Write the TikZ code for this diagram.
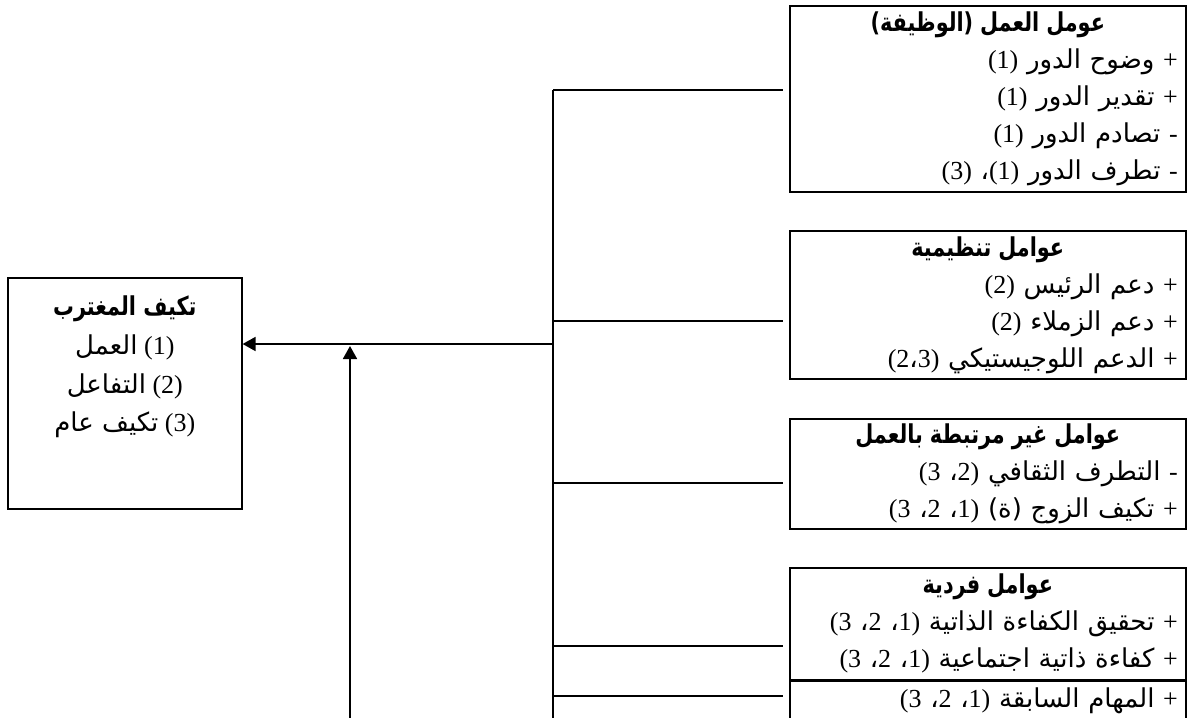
\documentclass[tikz,border=0pt]{standalone}
\usepackage{fontspec}
\usepackage{graphicx}
\setmainfont{Liberation Serif}
\newfontfamily\arabicfont[Script=Arabic]{DejaVu Sans}
\TeXXeTstate=1
\usetikzlibrary{arrows.meta}

% helpers for right-to-left lines
\newcommand\ar[1]{{\arabicfont #1}}
\newcommand\rl[1]{\beginR #1\endR}
\newcommand\lr[1]{\beginL #1\endL{}}
\newcommand\boldar[1]{\scalebox{0.8}[1]{\rl{\ar{\fontsize{13pt}{18.5pt}\selectfont\bfseries #1}}}}
\newcommand\head[1]{\makebox[\linewidth][c]{\boldar{#1}}}

\tikzset{
  factorbox/.style={draw, line width=0.8pt, anchor=north west, inner xsep=4pt,
    inner ysep=0pt, text width=190pt, align=right,
    font=\fontsize{13pt}{18.5pt}\selectfont},
  outcomebox/.style={draw, line width=0.8pt, anchor=north west,
    minimum width=117pt, minimum height=115.5pt},
  branch/.style={line width=0.6pt},
  flow/.style={line width=0.9pt, -{Triangle[length=6.5pt,width=7pt]}}
}

\begin{document}
\begin{tikzpicture}[x=0.5pt, y=-0.5pt]
    \useasboundingbox (0,0) rectangle (1190,718);

    % Outcome box on the left
    \node[outcomebox] (adapt) at (7,277) {};
    \node[anchor=north, align=center, font=\fontsize{13pt}{19.3pt}\selectfont]
      (adapttext) at ([yshift=-6pt]adapt.north) {%
      \boldar{تكيف المغترب}\\
      \rl{(1) \ar{العمل}}\\
      \rl{(2) \ar{التفاعل}}\\
      \rl{(3) \ar{تكيف عام}}};

    % Factor boxes on the right
    \node[factorbox, minimum height=93pt] (work) at (789,5) {%
      \head{عومل العمل (الوظيفة)}\\
      \rl{+ \ar{وضوح الدور} (1)}\\
      \rl{+ \ar{تقدير الدور} (1)}\\
      \rl{- \ar{تصادم الدور} (1)}\\
      \rl{- \ar{تطرف الدور} (1)\ar{،} (3)}};

    \node[factorbox, minimum height=74pt] (org) at (789,230) {%
      \head{عوامل تنظيمية}\\
      \rl{+ \ar{دعم الرئيس} (2)}\\
      \rl{+ \ar{دعم الزملاء} (2)}\\
      \rl{+ \ar{الدعم اللوجيستيكي} \lr{(2\ar{،}3)}}};

    \node[factorbox, minimum height=55pt] (nonwork) at (789,418) {%
      \head{عوامل غير مرتبطة بالعمل}\\
      \rl{- \ar{التطرف الثقافي} \lr{(3 \ar{،}2)}}\\
      \rl{+ \ar{تكيف الزوج (ة)} \lr{(3 \ar{،}2 \ar{،}1)}}};

    \node[factorbox, minimum height=56pt] (indiv) at (789,567) {%
      \head{عوامل فردية}\\
      \rl{+ \ar{تحقيق الكفاءة الذاتية} \lr{(3 \ar{،}2 \ar{،}1)}}\\
      \rl{+ \ar{كفاءة ذاتية اجتماعية} \lr{(3 \ar{،}2 \ar{،}1)}}};

    \node[factorbox, minimum height=19pt, anchor=north west] (prior) at (indiv.south west) {%
      \rl{+ \ar{المهام السابقة} \lr{(3 \ar{،}2 \ar{،}1)}}};

    % Bus and branch points
    \coordinate (bustop) at (553,90);
    \coordinate (busbot) at (553,718);
    \coordinate (hub) at (553,344);
    \coordinate (upbot) at (350,718);
    \coordinate (b1) at (553,90);
    \coordinate (b2) at (553,321);
    \coordinate (b3) at (553,483);
    \coordinate (b4) at (553,646);
    \coordinate (b5) at (553,696);

    \draw[branch] (bustop) -- (busbot);
    \foreach \p/\q in {b1/work, b2/org, b3/nonwork, b4/indiv, b5/prior}
      \draw[branch, shorten >=3pt] (\p) -- (\p -| \q.west);

    % Arrows into the outcome
    \draw[flow] (hub) -- (hub -| adapt.east);
    \draw[flow] (upbot) -- ([yshift=-1pt]upbot |- hub);

\end{tikzpicture}
\end{document}
